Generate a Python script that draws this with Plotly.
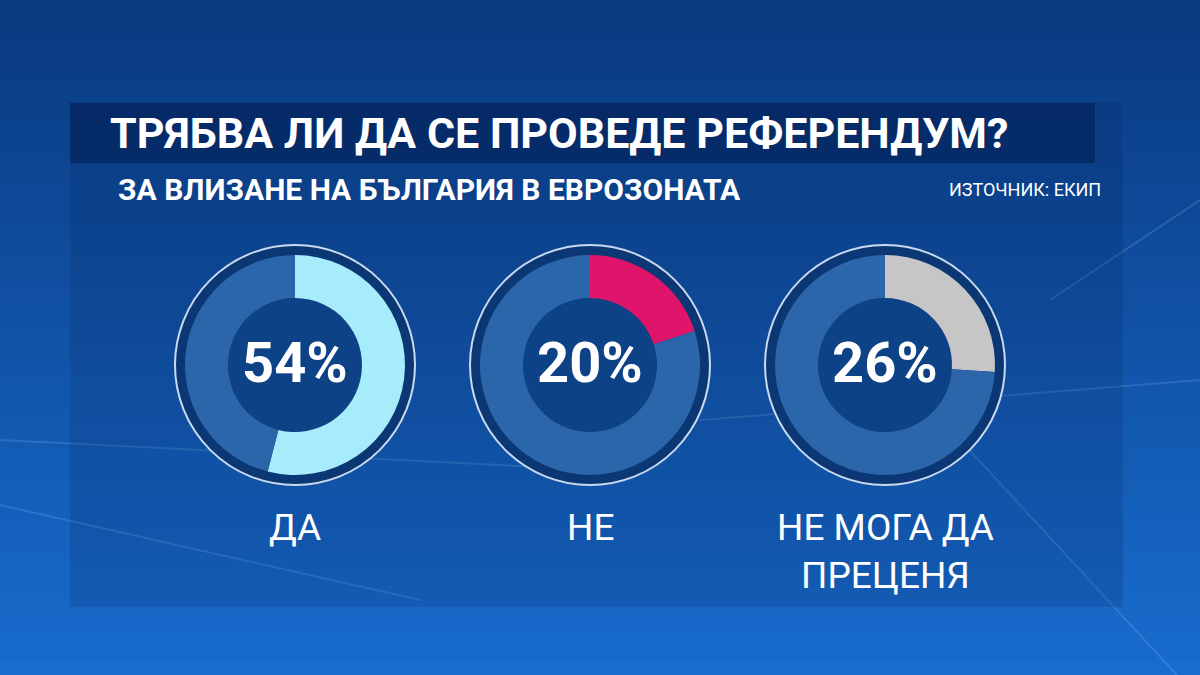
import plotly.graph_objects as go

# ---- data ----
categories = ["ДА", "НЕ", "НЕ МОГА ДА<br>ПРЕЦЕНЯ"]
values = [54, 20, 26]
pct_labels = ["54%", "20%", "26%"]
fill_colors = ["#a6ecfb", "#e0146a", "#c6c6c6"]
title_text = "ТРЯБВА ЛИ ДА СЕ ПРОВЕДЕ РЕФЕРЕНДУМ?"
subtitle_text = "ЗА ВЛИЗАНЕ НА БЪЛГАРИЯ В ЕВРОЗОНАТА"
source_text = "ИЗТОЧНИК: ЕКИП"

W, H = 1200, 675
centers_x = [295, 590, 885]
center_y = 365
R_outer_ring = 120
R_donut = 110
R_hole = 67

def px(x):
    return x / W

def py(y):
    return 1 - y / H

fig = go.Figure()
shapes = []

# background vertical gradient
top = (10, 58, 128)
bot = (24, 108, 206)
n = 45
for i in range(n):
    t = i / (n - 1)
    c = tuple(int(top[k] + (bot[k] - top[k]) * t) for k in range(3))
    shapes.append(dict(type="rect", xref="paper", yref="paper",
                       x0=0, x1=1, y0=py(H * (i + 1) / n + 1), y1=py(H * i / n),
                       fillcolor="rgb(%d,%d,%d)" % c, line=dict(width=0), layer="below"))

# faint diagonal light streaks
streaks = [((0, 505), (420, 600)), ((960, 440), (1200, 700)), ((1050, 300), (1200, 200)),
           ((0, 440), (600, 470)), ((700, 420), (1200, 380))]
for (a, b) in streaks:
    shapes.append(dict(type="line", xref="paper", yref="paper",
                       x0=px(a[0]), y0=py(a[1]), x1=px(b[0]), y1=py(b[1]),
                       line=dict(color="rgba(160,210,255,0.18)", width=2), layer="below"))

# panel overlay
shapes.append(dict(type="rect", xref="paper", yref="paper",
                   x0=px(70), x1=px(1123), y0=py(607), y1=py(102),
                   fillcolor="rgba(5,30,80,0.16)", line=dict(width=0), layer="below"))
# title bar
shapes.append(dict(type="rect", xref="paper", yref="paper",
                   x0=px(70), x1=px(1095), y0=py(163), y1=py(103),
                   fillcolor="rgba(6,40,100,0.85)", line=dict(width=0), layer="below"))

# donut frames
for cx in centers_x:
    shapes.append(dict(type="circle", xref="paper", yref="paper",
                       x0=px(cx - R_outer_ring), x1=px(cx + R_outer_ring),
                       y0=py(center_y + R_outer_ring), y1=py(center_y - R_outer_ring),
                       fillcolor="#0b3774", line=dict(color="#c9daf0", width=2), layer="below"))
    shapes.append(dict(type="circle", xref="paper", yref="paper",
                       x0=px(cx - R_hole), x1=px(cx + R_hole),
                       y0=py(center_y + R_hole), y1=py(center_y - R_hole),
                       fillcolor="#0d4287", line=dict(width=0), layer="below"))

for i, cx in enumerate(centers_x):
    v = values[i]
    fig.add_trace(go.Pie(
        values=[v, 100 - v],
        marker=dict(colors=[fill_colors[i], "#2b65aa"], line=dict(width=0)),
        hole=R_hole / R_donut,
        sort=False, direction="clockwise", rotation=0,
        textinfo="none", hoverinfo="skip", showlegend=False,
        domain=dict(x=[px(cx - R_donut), px(cx + R_donut)],
                    y=[py(center_y + R_donut), py(center_y - R_donut)]),
    ))

annotations = []
font_main = "Roboto, Inter, 'Noto Sans', sans-serif"
font_narrow = "Roboto, 'DejaVu Sans Condensed', sans-serif"
for i, cx in enumerate(centers_x):
    annotations.append(dict(x=px(cx), y=py(center_y - 2), xref="paper", yref="paper",
                            text="<b>%s</b>" % pct_labels[i], showarrow=False,
                            font=dict(family=font_main, size=56, color="white"),
                            xanchor="center", yanchor="middle"))
    annotations.append(dict(x=px(cx), y=py(504), xref="paper", yref="paper",
                            text=categories[i], showarrow=False,
                            font=dict(family=font_main, size=37, color="white"),
                            xanchor="center", yanchor="top", align="center"))

annotations.append(dict(x=px(108), y=py(133), xref="paper", yref="paper",
                        text="<b>%s</b>" % title_text, showarrow=False,
                        font=dict(family=font_narrow, size=43, color="white"),
                        xanchor="left", yanchor="middle"))
annotations.append(dict(x=px(116), y=py(190), xref="paper", yref="paper",
                        text="<b>%s</b>" % subtitle_text, showarrow=False,
                        font=dict(family=font_narrow, size=30, color="white"),
                        xanchor="left", yanchor="middle"))
annotations.append(dict(x=px(1103), y=py(190), xref="paper", yref="paper",
                        text=source_text, showarrow=False,
                        font=dict(family=font_narrow, size=18, color="white"),
                        xanchor="right", yanchor="middle"))

fig.update_layout(width=W, height=H, margin=dict(l=0, r=0, t=0, b=0),
                  paper_bgcolor="#0d4a9a", plot_bgcolor="rgba(0,0,0,0)",
                  shapes=shapes, annotations=annotations,
                  xaxis=dict(visible=False), yaxis=dict(visible=False))
fig.write_html("out.html", config={"displayModeBar": False},
               post_script="document.body.style.margin='0';document.body.style.overflow='hidden';")
